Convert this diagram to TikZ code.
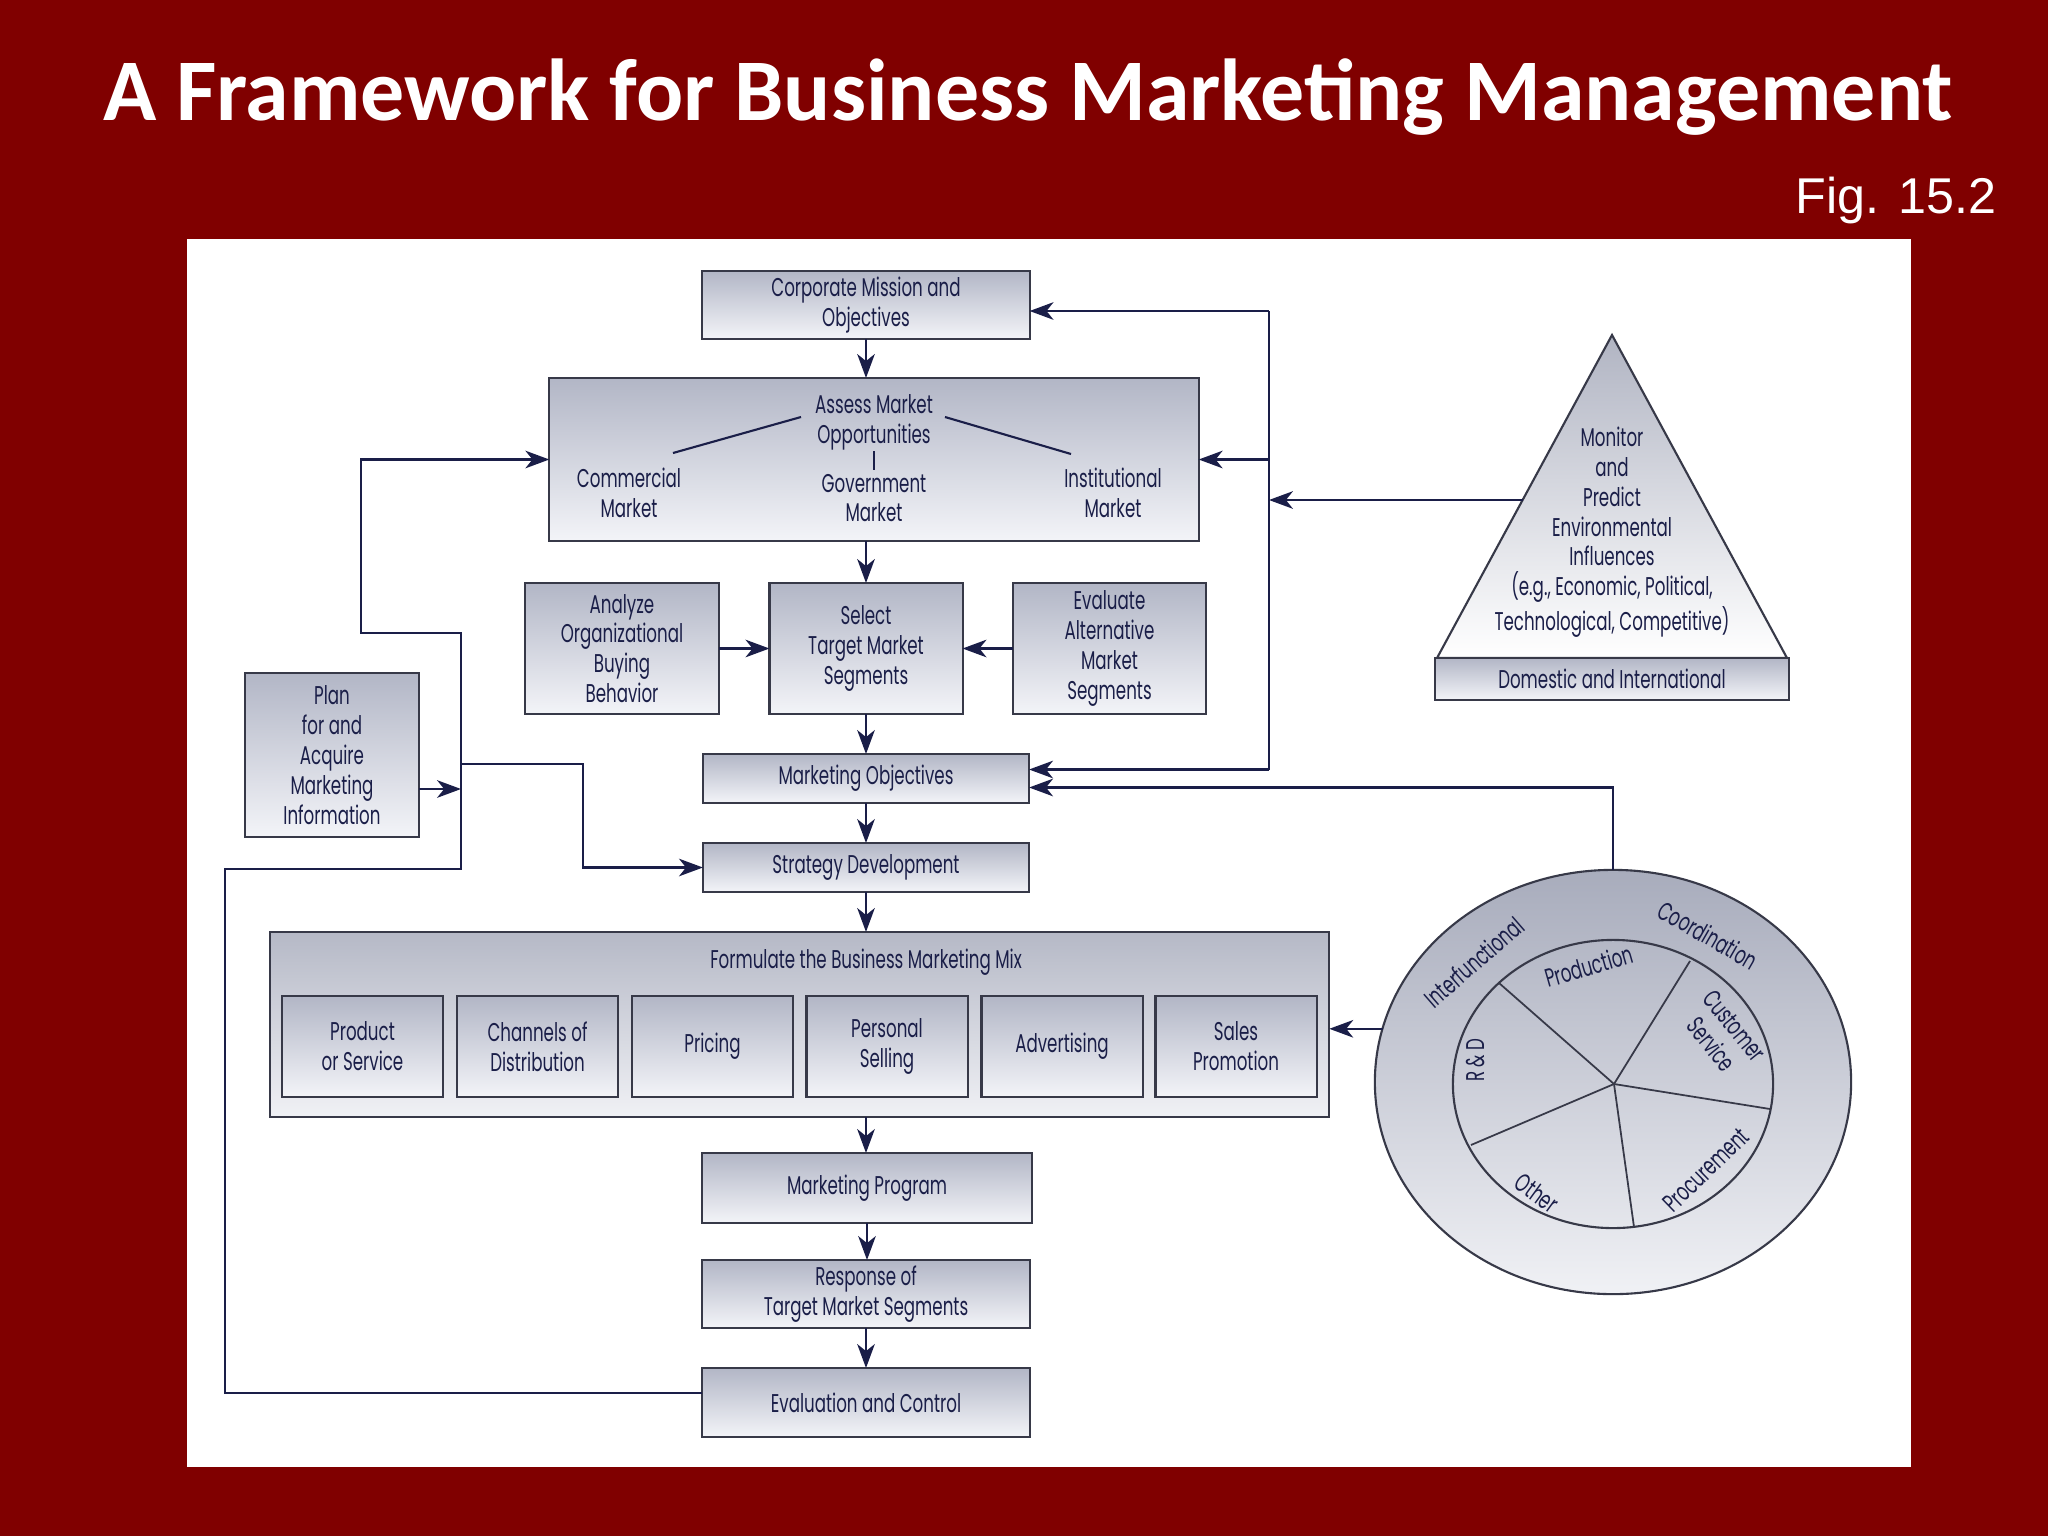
\documentclass[tikz,border=0pt]{standalone}
\usepackage{fontspec}
\setmainfont{Liberation Sans}
\newfontfamily\titlefont{Carlito}
\newfontfamily\dfont[FakeStretch=0.65]{Poppins}
\usetikzlibrary{arrows.meta,shapes.geometric,calc}
\definecolor{bgred}{RGB}{128,0,0}
\definecolor{navy}{RGB}{26,30,72}
\definecolor{edgec}{RGB}{55,57,72}
\definecolor{shtop}{RGB}{178,182,198}
\definecolor{shbot}{RGB}{243,244,248}
\definecolor{rtop}{RGB}{168,172,188}
\definecolor{rbot}{RGB}{240,241,245}
\begin{document}
\begin{tikzpicture}[x=0.01cm,y=-0.01cm,
  dtext/.style={text=navy, font=\dfont\fontsize{7.3}{8.5}\selectfont},
  box/.style={draw=edgec, line width=0.6pt, top color=shtop, bottom color=shbot, inner sep=0pt, outer sep=0pt, align=center, dtext},
  lbl/.style={inner sep=0pt, outer sep=0pt, align=center, dtext},
  conn/.style={draw=navy, line width=0.6pt},
  arr/.style={conn, -{Stealth[length=6.8pt,width=5pt,inset=2pt]}},
]
\useasboundingbox (0,0) rectangle (2048,1536);
\fill[bgred] (0,0) rectangle (2048,1536);
\fill[white] (187,239) rectangle (1911,1467);

% titles
\node[anchor=base, text=white, inner sep=0pt, font=\titlefont\bfseries\fontsize{25}{30}\selectfont] (title) at (1028,120) {A Framework for Business Marketing Management};
\node[anchor=base west, text=white, inner sep=0pt, font=\fontsize{14.3}{17}\selectfont] (fig) at (1795,213) {Fig. 15.2};

% main column
\node[box, minimum width=3.27cm, minimum height=0.68cm] (corp) at (866,305) {Corporate Mission and\\Objectives};
\node[box, minimum width=6.49cm, minimum height=1.63cm] (assess) at (874,459.5) {};
\node[lbl] (assessT) at (874,422) {Assess Market\\Opportunities};
\node[lbl] (comm) at (629,493) {Commercial\\Market};
\node[lbl] (gov) at (874,498) {Government\\Market};
\node[lbl] (inst) at (1113,493) {Institutional\\Market};
\coordinate (a1) at (801,417); \coordinate (a2) at (673,453);
\coordinate (a3) at (945,417); \coordinate (a4) at (1071,454);
\coordinate (a5) at (874,451); \coordinate (a6) at (874,470);
\draw[conn] (a1) -- (a2);
\draw[conn] (a3) -- (a4);
\draw[conn] (a5) -- (a6);

\node[box, minimum width=1.94cm, minimum height=1.31cm] (analyze) at (622,648.5) {Analyze\\Organizational\\Buying\\Behavior};
\node[box, minimum width=1.93cm, minimum height=1.31cm] (select) at (866,648.5) {Select\\Target Market\\Segments};
\node[box, minimum width=1.93cm, minimum height=1.31cm] (evaluate) at (1109.5,648.5) {Evaluate\\Alternative\\Market\\Segments};
\node[box, minimum width=1.74cm, minimum height=1.64cm] (plan) at (332,755) {Plan\\for and\\Acquire\\Marketing\\Information};
\node[box, minimum width=3.26cm, minimum height=0.49cm] (mo) at (866,778.5) {Marketing Objectives};
\node[box, minimum width=3.26cm, minimum height=0.49cm] (sd) at (866,867.5) {Strategy Development};

\node[box, minimum width=10.59cm, minimum height=1.85cm, top color=rtop!85, bottom color=rbot] (form) at (799.5,1024.5) {};
\node[lbl] (formT) at (866,962) {Formulate the Business Marketing Mix};
\node[box, minimum width=1.61cm, minimum height=1.01cm] (m1) at (362.5,1046.5) {Product\\or Service};
\node[box, minimum width=1.61cm, minimum height=1.01cm] (m2) at (537.5,1046.5) {Channels of\\Distribution};
\node[box, minimum width=1.61cm, minimum height=1.01cm] (m3) at (712.5,1046.5) {Pricing};
\node[box, minimum width=1.61cm, minimum height=1.01cm] (m4) at (887,1046.5) {Personal\\Selling};
\node[box, minimum width=1.61cm, minimum height=1.01cm] (m5) at (1062,1046.5) {Advertising};
\node[box, minimum width=1.61cm, minimum height=1.01cm] (m6) at (1236,1046.5) {Sales\\Promotion};

\node[box, minimum width=3.29cm, minimum height=0.70cm] (mp) at (867,1188) {Marketing Program};
\node[box, minimum width=3.27cm, minimum height=0.68cm] (resp) at (866,1294) {Response of\\Target Market Segments};
\node[box, minimum width=3.27cm, minimum height=0.69cm] (evalc) at (866,1402.5) {Evaluation and Control};

% main column arrows
\draw[arr] (corp.south) -- (corp.south |- assess.north);
\draw[arr] (select.north |- assess.south) -- (select.north);
\draw[arr] (analyze.east) -- (select.west);
\draw[arr] (evaluate.west) -- (select.east);
\draw[arr] (select.south) -- (select.south |- mo.north);
\draw[arr] (mo.south) -- (sd.north);
\draw[arr] (sd.south) -- (sd.south |- form.north);
\draw[arr] (sd.south |- form.south) -- (sd.south |- mp.north);
\draw[arr] (mp.south) -- (mp.south |- resp.north);
\draw[arr] (resp.south) -- (evalc.north);

% triangle
\coordinate (apex) at (1612,335);
\coordinate (tbl) at (1437,658);
\coordinate (tbr) at (1787,658);
\draw[draw=edgec, line width=0.6pt, top color=rtop!90, bottom color=white] (apex) -- (tbr) -- (tbl) -- cycle;
\node[lbl] (mon) at (1612,532) {Monitor\\and\\Predict\\Environmental\\Influences\\(e.g., Economic, Political,\\Technological, Competitive)};
\node[box, minimum width=3.54cm, minimum height=0.42cm] (dom) at (1612,679) {Domestic and International};
\coordinate (tl) at (1522.6,500);

% right loop
\coordinate (rt) at (1269,311);
\path (mo.east) ++(0,-9) coordinate (moA) ++(0,18) coordinate (moB);
\draw[conn] (rt) -- (rt |- moA);
\draw[arr] (rt) -- (corp.east |- rt);
\draw[arr] (rt |- assess.east) -- (assess.east);
\draw[arr] (rt |- moA) -- (moA);
\draw[arr] (tl) -- (tl -| rt);

% circle
\node[ellipse, draw=edgec, line width=0.6pt, top color=rtop, bottom color=rbot, minimum width=4.76cm, minimum height=4.24cm, inner sep=0pt, outer sep=0pt] (outer) at (1613,1082) {};
\node[ellipse, draw=edgec, line width=0.6pt, minimum width=3.2cm, minimum height=2.88cm, inner sep=0pt, outer sep=0pt] (inner) at (1613,1084) {};
\coordinate (pc) at (1614,1084);
\coordinate (p1) at (1499,983);
\coordinate (p2) at (1690,961);
\coordinate (p3) at (1770,1109);
\coordinate (p4) at (1634,1227);
\coordinate (p5) at (1471,1145);
\foreach \p in {p1,p2,p3,p4,p5} \draw[draw=edgec, line width=0.5pt] (pc) -- (\p);
\node[lbl, rotate=41] (interf) at (1474,962) {Interfunctional};
\node[lbl, rotate=-30] (coord) at (1708,935) {Coordination};
\node[lbl, rotate=16] (prod) at (1589,966) {Production};
\node[lbl, rotate=-51] (cust) at (1723,1035) {Customer\\Service};
\node[lbl, rotate=90] (rd) at (1476,1060) {R \& D};
\node[lbl, rotate=-36] (other) at (1537,1193) {Other};
\node[lbl, rotate=44] (proc) at (1706,1170) {Procurement};

\draw[arr] (outer.north) |- (moB);
\draw[arr] (outer.167) -- (outer.167 -| form.east);

% left loop
\coordinate (L1) at (225,869);
\coordinate (L2) at (461,869);
\coordinate (L3) at (461,633);
\coordinate (L4) at (361,633);
\draw[arr] ([yshift=2.8pt]evalc.west) -| (L1) -- (L2) -- (L3) -- (L4) |- (assess.west);
\path (plan.east) ++(0,34) coordinate (planA);
\draw[arr] (planA) -- (planA -| L2);
\coordinate (B1) at (461,764);
\coordinate (B2) at (583,764);
\draw[arr] (B1) -- (B2) |- (sd.west);
\end{tikzpicture}
\end{document}
